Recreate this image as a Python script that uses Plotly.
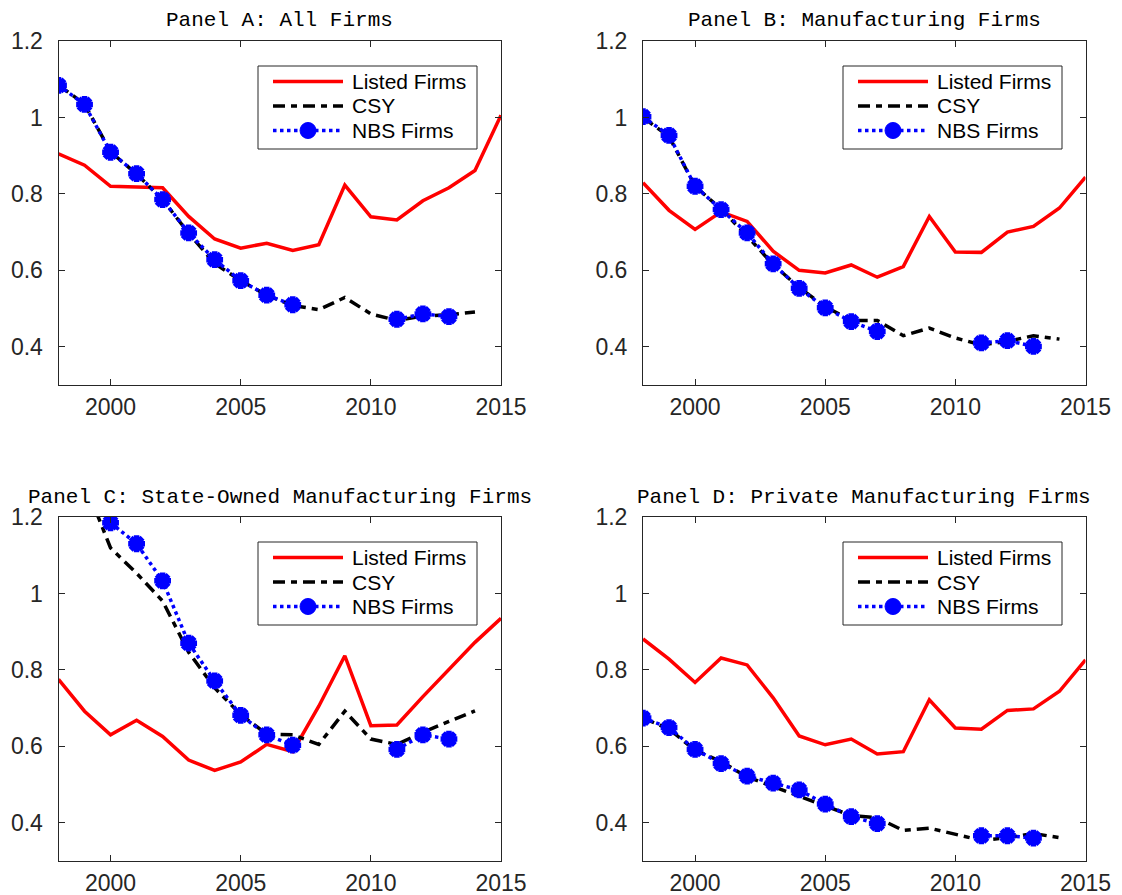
import plotly.graph_objects as go

years_listed = list(range(1998, 2016))
years_csy = list(range(1998, 2015))
years_nbs = list(range(1998, 2014))

# Panel A: All Firms
listed_A = [0.905, 0.875, 0.820, 0.817, 0.816, 0.741, 0.682, 0.658, 0.671, 0.652, 0.667, 0.823, 0.740, 0.732, 0.782, 0.816, 0.861, 1.006]
csy_A = [1.085, 1.035, 0.910, 0.852, 0.785, 0.697, 0.618, 0.573, 0.535, 0.508, 0.497, 0.529, 0.486, 0.469, 0.480, 0.484, 0.491]
nbs_A = [1.084, 1.034, 0.909, 0.853, 0.785, 0.698, 0.628, 0.573, 0.535, 0.510, None, None, None, 0.472, 0.486, 0.479]

# Panel B: Manufacturing Firms
listed_B = [0.829, 0.757, 0.707, 0.753, 0.728, 0.650, 0.600, 0.593, 0.614, 0.582, 0.610, 0.741, 0.648, 0.647, 0.700, 0.715, 0.763, 0.844]
csy_B = [1.000, 0.950, 0.820, 0.760, 0.690, 0.615, 0.555, 0.505, 0.469, 0.469, 0.429, 0.449, 0.423, 0.405, 0.414, 0.429, 0.420]
nbs_B = [1.002, 0.953, 0.820, 0.759, 0.698, 0.617, 0.553, 0.502, 0.466, 0.440, None, None, None, 0.410, 0.416, 0.401]

# Panel C: State-Owned Manufacturing Firms
listed_C = [0.775, 0.692, 0.630, 0.668, 0.626, 0.564, 0.537, 0.559, 0.605, 0.586, 0.705, 0.837, 0.654, 0.656, 0.730, 0.800, 0.872, 0.935]
csy_C = [None, 1.290, 1.119, 1.053, 0.980, 0.846, 0.753, 0.683, 0.632, 0.630, 0.605, 0.692, 0.619, 0.605, 0.637, 0.665, 0.693]
nbs_C = [None, None, 1.185, 1.130, 1.033, 0.870, 0.771, 0.681, 0.630, 0.603, None, None, None, 0.592, 0.630, 0.619]

# Panel D: Private Manufacturing Firms
listed_D = [0.881, 0.828, 0.767, 0.831, 0.813, 0.727, 0.627, 0.604, 0.619, 0.580, 0.586, 0.722, 0.648, 0.645, 0.694, 0.698, 0.744, 0.826]
csy_D = [0.674, 0.645, 0.590, 0.560, 0.520, 0.495, 0.468, 0.445, 0.419, 0.413, 0.380, 0.386, 0.370, 0.354, 0.361, 0.372, 0.361]
nbs_D = [0.674, 0.649, 0.592, 0.555, 0.522, 0.504, 0.486, 0.449, 0.416, 0.398, None, None, None, 0.366, 0.366, 0.360]

titles = ["Panel A: All Firms", "Panel B: Manufacturing Firms",
          "Panel C: State-Owned Manufacturing Firms", "Panel D: Private Manufacturing Firms"]
series_names = ["Listed Firms", "CSY", "NBS Firms"]
x_ticks = [2000, 2005, 2010, 2015]
y_ticks = [0.4, 0.6, 0.8, 1.0, 1.2]
y_ticktext = ["0.4", "0.6", "0.8", "1", "1.2"]

panels = [(listed_A, csy_A, nbs_A), (listed_B, csy_B, nbs_B),
          (listed_C, csy_C, nbs_C), (listed_D, csy_D, nbs_D)]

OFF = 8  # page body margin
W, H = 1122 - OFF, 895 - OFF
# plot-area boxes in reference pixels (left, right, top, bottom)
boxes = [(58.5, 501, 41, 385), (643, 1085.5, 41, 385),
         (58.5, 501, 517, 861), (643, 1085.5, 517, 861)]
# legend boxes (left, top) in reference pixels
legend_pos = [(258, 66), (843, 66), (258, 542), (843, 542)]
LEG_W, LEG_H = 219, 83
title_y = [20, 497]

RED, BLACK, BLUE, AX = "#FF0000", "#000000", "#0000FF", "#262626"
CSY_DASH = "12px,6px,6px,6px"

def px(x):
    return (x - OFF) / W

def py(y):
    return 1 - (y - OFF) / H

fig = go.Figure()
layout = dict(width=W, height=H, margin=dict(l=0, r=0, t=0, b=0, autoexpand=False),
              template="none", paper_bgcolor="white", plot_bgcolor="white", showlegend=False)
annotations, shapes = [], []
for i, (lst, csy, nbs) in enumerate(panels):
    n = i + 1
    xa = "x" if n == 1 else f"x{n}"
    ya = "y" if n == 1 else f"y{n}"
    fig.add_trace(go.Scatter(x=years_listed, y=lst, name=series_names[0], mode="lines",
                             line=dict(color=RED, width=3.5), xaxis=xa, yaxis=ya))
    fig.add_trace(go.Scatter(x=years_csy, y=csy, name=series_names[1], mode="lines",
                             line=dict(color=BLACK, width=3.5, dash=CSY_DASH), xaxis=xa, yaxis=ya))
    fig.add_trace(go.Scatter(x=years_nbs, y=nbs, name=series_names[2], mode="lines+markers",
                             line=dict(color=BLUE, width=3.5, dash="dot"),
                             marker=dict(symbol="asterisk-open", size=14, color=BLUE,
                                         line=dict(color=BLUE, width=5.5)),
                             connectgaps=False, xaxis=xa, yaxis=ya))
    l, r, t, b = boxes[i]
    common = dict(showline=True, linecolor=AX, linewidth=1, mirror="ticks", ticks="inside",
                  ticklen=6, tickcolor=AX, showgrid=False, zeroline=False, automargin=False,
                  tickfont=dict(family="Liberation Sans", size=23, color=AX))
    layout["xaxis" if n == 1 else f"xaxis{n}"] = dict(
        domain=[px(l), px(r)], anchor=ya, range=[1998, 2015], tickvals=x_ticks,
        ticklabelstandoff=1, **common)
    layout["yaxis" if n == 1 else f"yaxis{n}"] = dict(
        domain=[py(b), py(t)], anchor=xa, range=[0.3, 1.2], tickvals=y_ticks,
        ticktext=y_ticktext, ticklabelstandoff=10, **common)

    # legend box (drawn manually to match the original geometry)
    lx, ly = legend_pos[i]
    shapes.append(dict(type="rect", xref="paper", yref="paper",
                       x0=px(lx), x1=px(lx + LEG_W), y0=py(ly + LEG_H), y1=py(ly),
                       line=dict(color=AX, width=1), fillcolor="white", layer="above"))
    rows = [ly + 15.5, ly + 40, ly + 64.5]
    styles = [dict(color=RED, width=3.5), dict(color=BLACK, width=3.5, dash=CSY_DASH),
              dict(color=BLUE, width=3.5, dash="dot")]
    for k in range(3):
        shapes.append(dict(type="line", xref="paper", yref="paper",
                           x0=px(lx + 15), x1=px(lx + 85), y0=py(rows[k]), y1=py(rows[k]),
                           line=styles[k], layer="above"))
        annotations.append(dict(text=series_names[k], x=px(lx + 92), y=py(rows[k]),
                                xref="paper", yref="paper", showarrow=False,
                                xanchor="left", yanchor="middle",
                                font=dict(family="Liberation Sans", size=21, color=BLACK)))
    cx, cy = lx + 50, rows[2]
    shapes.append(dict(type="circle", xref="paper", yref="paper",
                       x0=px(cx - 8), x1=px(cx + 8), y0=py(cy + 8), y1=py(cy - 8),
                       line=dict(color=BLUE, width=1), fillcolor=BLUE, layer="above"))

    annotations.append(dict(text=titles[i], x=px((l + r) / 2), y=py(title_y[i // 2]),
                            xref="paper", yref="paper", showarrow=False,
                            xanchor="center", yanchor="middle",
                            font=dict(family="Liberation Mono", size=21, color=BLACK)))
layout["annotations"] = annotations
layout["shapes"] = shapes
fig.update_layout(**layout)
fig.write_html("out.html")
